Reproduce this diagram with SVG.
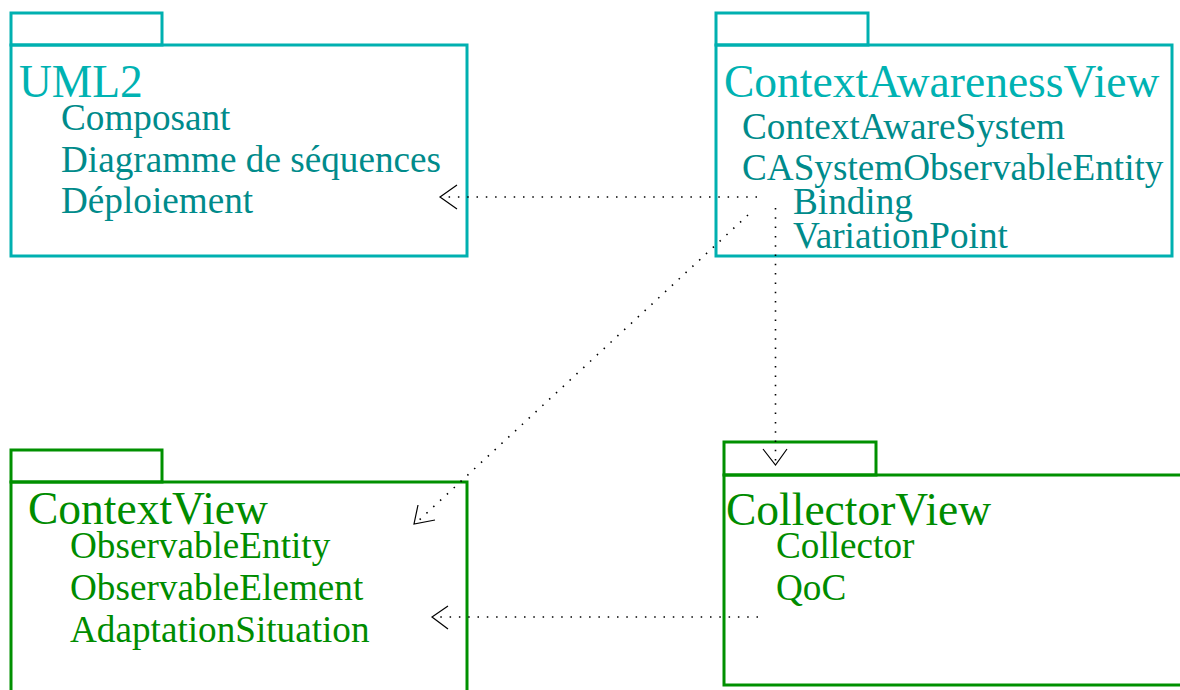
<svg xmlns="http://www.w3.org/2000/svg" width="1180" height="690" viewBox="0 0 1180 690">
<style>
  .box { fill: none; stroke-width: 3; }
  .cy { stroke: #00b0b0; }
  .gr { stroke: #009000; }
  text { font-family: "Liberation Serif", "Times New Roman", serif; }
  .t { font-size: 45.5px; }
  .i { font-size: 37.2px; }
  .cyt { fill: #00b2b2; }
  .cyi { fill: #008b8b; }
  .grt { fill: #008c00; }
  .conn { fill: none; stroke: #000; stroke-width: 1.6; stroke-dasharray: 1.5 7.8; }
  .head { fill: none; stroke: #000; stroke-width: 1.2; }
</style>
<rect width="1180" height="690" fill="#fff"/>
<g id="uml2">
  <rect class="box cy" x="11" y="13" width="151" height="32"/>
  <rect class="box cy" x="11" y="45" width="456" height="211"/>
  <text class="t cyt" x="19" y="97">UML2</text>
  <text class="i cyi" x="61" y="130">Composant</text>
  <text class="i cyi" x="61" y="172">Diagramme de séquences</text>
  <text class="i cyi" x="61" y="213">Déploiement</text>
</g>
<g id="contextawarenessview">
  <rect class="box cy" x="716" y="13" width="152" height="32"/>
  <rect class="box cy" x="716" y="45" width="456" height="211"/>
  <text class="t cyt" x="724" y="97">ContextAwarenessView</text>
  <text class="i cyi" x="742" y="139">ContextAwareSystem</text>
  <text class="i cyi" x="742" y="180">CASystemObservableEntity</text>
  <text class="i cyi" x="793" y="214">Binding</text>
  <text class="i cyi" x="793" y="248">VariationPoint</text>
</g>
<g id="contextview">
  <rect class="box gr" x="11" y="450" width="151" height="32"/>
  <rect class="box gr" x="11" y="482" width="456" height="220"/>
  <text class="t grt" x="28" y="524">ContextView</text>
  <text class="i grt" x="70" y="558">ObservableEntity</text>
  <text class="i grt" x="70" y="600">ObservableElement</text>
  <text class="i grt" x="70" y="642">AdaptationSituation</text>
</g>
<g id="collectorview">
  <rect class="box gr" x="724" y="442" width="152" height="33"/>
  <rect class="box gr" x="724" y="475" width="460" height="210"/>
  <text class="t grt" x="726" y="525">CollectorView</text>
  <text class="i grt" x="776" y="558">Collector</text>
  <text class="i grt" x="776" y="600">QoC</text>
</g>
<g id="connectors">
  <line class="conn" x1="757" y1="197" x2="441" y2="197"/>
  <polyline class="head" points="457,185 440,197 457,209"/>
  <line class="conn" x1="748" y1="215" x2="416" y2="523"/>
  <polyline class="head" points="418,505 414,524 435,520"/>
  <line class="conn" x1="775.5" y1="208" x2="775.5" y2="464"/>
  <polyline class="head" points="763,449 775.5,465 787,449"/>
  <line class="conn" x1="758" y1="617" x2="433" y2="617"/>
  <polyline class="head" points="448,606 432,617 448,629"/>
</g>
</svg>
